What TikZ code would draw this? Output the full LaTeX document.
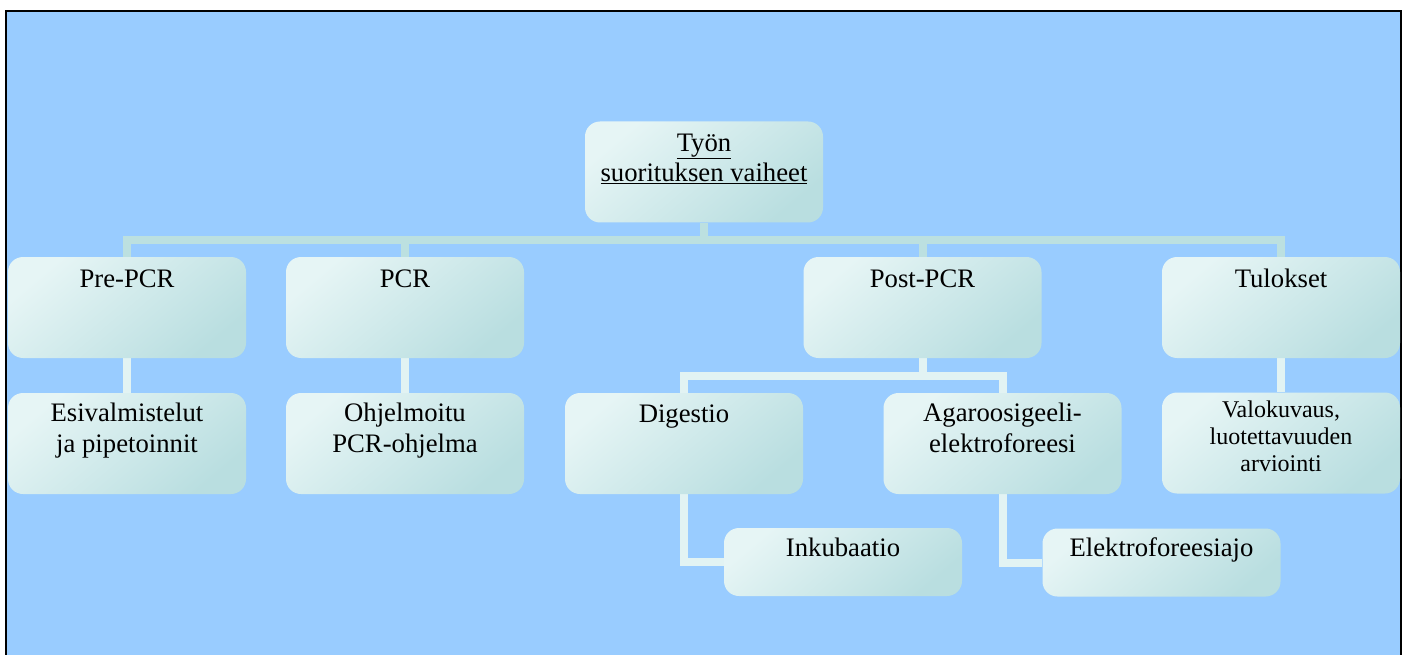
\documentclass[tikz,border=0pt]{standalone}
\usepackage{fontspec}
\setmainfont{Liberation Serif}
\definecolor{bgblue}{HTML}{99CCFF}
\definecolor{boxlight}{HTML}{E6F5F5}
\definecolor{boxdark}{HTML}{B9DEE0}
\definecolor{connA}{HTML}{BCE0E0}
\definecolor{connB}{HTML}{E2F3F3}
\newcommand{\lbl}[1]{\begin{tabular}[t]{@{}c@{}}#1\end{tabular}}
\pgfdeclarelayer{bgbase}
\pgfdeclarelayer{bgconn}
\pgfsetlayers{bgbase,bgconn,main}
\begin{document}
\begin{tikzpicture}[x=1pt,y=-1pt,
  stepbox/.style={rectangle, rounded corners=15pt, inner sep=0pt,
    minimum width=238pt, minimum height=101pt,
    top color=boxlight, bottom color=boxdark, shading angle=40},
  smallbox/.style={stepbox, minimum height=68pt},
  txt/.style={anchor=base, inner sep=0pt, font=\fontsize{26.7}{30.5}\selectfont},
  txtsmall/.style={anchor=base, inner sep=0pt, font=\fontsize{24}{27}\selectfont},
  connone/.style={draw=connA, line width=8pt, line join=miter},
  conntwo/.style={draw=connB, line width=8pt, line join=miter}]
\useasboundingbox (0,0) rectangle (1408,655);
\begin{pgfonlayer}{bgbase}
\fill[white] (0,0) rectangle (1408,655);
\draw[fill=bgblue, line width=2pt] (6,11) rectangle (1401,665);
\end{pgfonlayer}

% boxes
\node[stepbox] (top) at (704,172) {};
\node[stepbox] (pre) at (127,307.5) {};
\node[stepbox] (pcr) at (405,307.5) {};
\node[stepbox] (post) at (922.5,307.5) {};
\node[stepbox] (tul) at (1281,307.5) {};
\node[stepbox] (esi) at (127,443.5) {};
\node[stepbox] (ohj) at (405,443.5) {};
\node[stepbox] (dig) at (684,443.5) {};
\node[stepbox] (aga) at (1002.5,443.5) {};
\node[stepbox] (valo) at (1281,443) {};
\node[smallbox] (ink) at (843,562) {};
\node[smallbox] (ele) at (1161.5,562.5) {};

% texts
\node[txt] (top-t) at ([yshift=-30pt]top.north) {\lbl{\underline{Työn}\\\underline{suorituksen vaiheet}}};
\node[txt] (pre-t) at ([yshift=-31pt]pre.north) {Pre-PCR};
\node[txt] (pcr-t) at ([yshift=-31pt]pcr.north) {PCR};
\node[txt] (post-t) at ([yshift=-31pt]post.north) {Post-PCR};
\node[txt] (tul-t) at ([yshift=-31pt]tul.north) {Tulokset};
\node[txt] (esi-t) at ([yshift=-29pt]esi.north) {\lbl{Esivalmistelut\\ja pipetoinnit}};
\node[txt] (ohj-t) at ([yshift=-29pt]ohj.north) {\lbl{Ohjelmoitu\\PCR-ohjelma}};
\node[txt] (dig-t) at ([yshift=-30pt]dig.north) {Digestio};
\node[txt] (aga-t) at ([yshift=-29pt]aga.north) {\lbl{Agaroosigeeli-\\elektroforeesi}};
\node[txtsmall] (valo-t) at ([yshift=-25pt]valo.north) {\lbl{Valokuvaus,\\luotettavuuden\\arviointi}};
\node[txt] (ink-t) at ([yshift=-29pt]ink.north) {Inkubaatio};
\node[txt] (ele-t) at ([yshift=-28pt]ele.north) {Elektroforeesiajo};

\coordinate (bar) at (704,240);
\coordinate (sub) at (922.5,376);

% connectors (behind boxes)
\begin{pgfonlayer}{bgconn}
\draw[connone] (pre.north) -- (pre.north |- bar) -- (tul.north |- bar) -- (tul.north);
\draw[connone] (top.south) -- (top.south |- bar);
\draw[connone] (pcr.north) -- (pcr.north |- bar);
\draw[connone] (post.north) -- (post.north |- bar);
\draw[conntwo] (pre.south) -- (esi.north);
\draw[conntwo] (pcr.south) -- (ohj.north);
\draw[conntwo] (tul.south) -- (valo.north);
\draw[conntwo] (post.south) -- (post.south |- sub);
\draw[conntwo] (dig.north) -- (dig.north |- sub) -- (aga.north |- sub) -- (aga.north);
\draw[conntwo] (dig.south) |- (ink.west);
\draw[conntwo] (aga.south) |- (ele.west);
\end{pgfonlayer}
\end{tikzpicture}
\end{document}
